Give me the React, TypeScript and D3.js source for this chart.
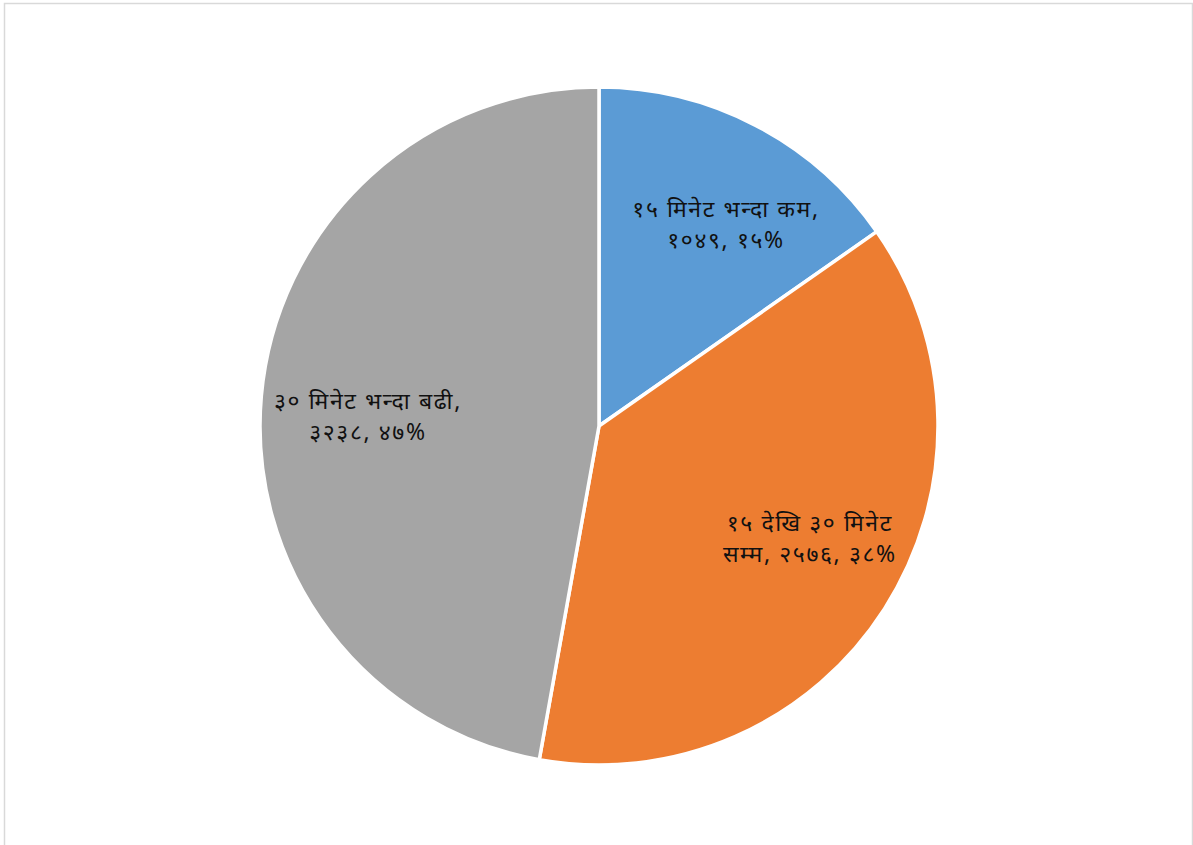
import React from "react";
import * as d3 from "d3";

const categories = ["१५ मिनेट भन्दा कम", "१५ देखि ३० मिनेट सम्म", "३० मिनेट भन्दा बढी"];
const values = [1049, 2576, 3238];
const valueLabels = ["१०४९", "२५७६", "३२३८"];
const percentLabels = ["१५%", "३८%", "४७%"];
const labelLines = [
  ["१५ मिनेट भन्दा कम,", "१०४९, १५%"],
  ["१५ देखि ३० मिनेट", "सम्म, २५७६, ३८%"],
  ["३० मिनेट भन्दा बढी,", "३२३८, ४७%"],
];
const colors = ["#5B9BD5", "#ED7D31", "#A5A5A5"];

export default function App() {
  const W = 1193, H = 845;
  const cx = 599, cy = 426, r = 339;
  const pie = d3.pie<number>().sort(null).value((d) => d);
  const arcs = pie(values);
  const arc = d3.arc<d3.PieArcDatum<number>>().innerRadius(0).outerRadius(r);
  const labelArc = d3.arc<d3.PieArcDatum<number>>().innerRadius(236).outerRadius(236);
  // small best-fit style nudges (layout only)
  const nudge = [[18, 8], [12, -15], [4, 11]];
  const font = "'Noto Sans', 'Noto Sans Devanagari', sans-serif";
  return (
    <svg width={W} height={H} style={{ position: "absolute", left: 0, top: 0 }}>
      <rect x={0} y={0} width={W} height={H} fill="#fff" />
      <rect x={4.5} y={3.5} width={1188} height={860} fill="none" stroke="#d9d9d9" strokeWidth={1.5} />
      <g transform={`translate(${cx},${cy})`}>
        {arcs.map((a, i) => (
          <path key={i} d={arc(a) || ""} fill={colors[i]} stroke="#fff" strokeWidth={3.5} strokeLinejoin="round" />
        ))}
        {arcs.map((a, i) => {
          const [x0, y0] = labelArc.centroid(a);
          const x = x0 + nudge[i][0], y = y0 + nudge[i][1];
          const lines = labelLines[i];
          return (
            <text key={"t" + i} x={x} y={y} textAnchor="middle" fontFamily={font} fontSize={23} letterSpacing={1.6} fill="#111">
              {lines.map((l, j) => (
                <tspan key={j} x={x} y={y + (j - (lines.length - 1) / 2) * 31 + 8}>{l}</tspan>
              ))}
            </text>
          );
        })}
      </g>
    </svg>
  );
}
